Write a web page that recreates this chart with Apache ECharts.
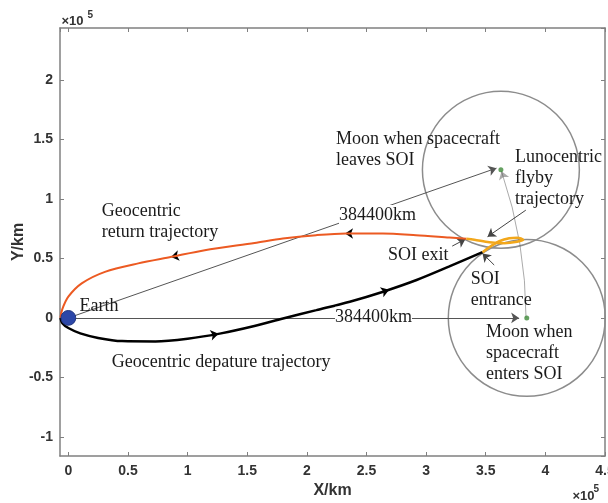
<!DOCTYPE html>
<html><head><meta charset="utf-8">
<script src="https://cdn.jsdelivr.net/npm/echarts@6/dist/echarts.min.js"></script>
<style>html,body{margin:0;padding:0;background:#fff}#c{width:608px;height:503px}</style>
</head><body><div id="c"></div>
<script>
// All coordinates in units of 1e5 km
const departureTrajectory = [[-0.066,0],[-0.05,-0.045],[0.0,-0.085],[0.1,-0.13],[0.25,-0.168],[0.45,-0.195],[0.73,-0.198],[1.0,-0.175],[1.28,-0.13],[1.56,-0.068],[1.80,-0.005],[2.08,0.065],[2.36,0.136],[2.64,0.22],[2.92,0.318],[3.19,0.43],[3.473,0.552]];
const returnTrajectory = [[3.337,0.665],[3.194,0.675],[2.915,0.695],[2.636,0.709],[2.330,0.709],[2.079,0.695],[1.799,0.667],[1.562,0.630],[1.144,0.569],[0.865,0.513],[0.586,0.458],[0.307,0.387],[0.112,0.290],[0.0,0.178],[-0.052,0.07],[-0.066,0.0]];
const flybyTrajectory = [[3.473,0.552],[3.556,0.611],[3.613,0.644],[3.697,0.669],[3.764,0.674],[3.814,0.657],[3.763,0.640],[3.655,0.628],[3.530,0.636],[3.404,0.657],[3.337,0.665]];
const earth = [0, 0, 0.062];                 // x, y, radius
const moonEnter = [3.844, 0];
const moonLeave = [3.627, 1.244];
const soiRadius = 0.658;
const distanceArrows = [[[0.06,0],[3.78,0]], [[0.055,0.019],[3.59,1.258]]];
const orbitArc = [[3.838,0.0],[3.632,1.232]];
const pointerArrows = [[[3.836,0.905],[3.515,0.682]], [[3.219,0.603],[3.329,0.661]], [[3.571,0.444],[3.473,0.541]]];
const departureArrows = [[[1.20,-0.145],[1.26,-0.133]], [[2.63,0.216],[2.69,0.237]]];
const returnArrows = [[[0.92,0.523],[0.86,0.512]], [[2.38,0.709],[2.32,0.709]]];
const xTickRange = [-0.07, 4.5];
const yTickRange = [-1.16, 2.435];

const chart = echarts.init(document.getElementById('c'), null, {renderer:'canvas'});
const axisCol = '#808080';
const lab = {fontFamily:'Liberation Sans, Arial, sans-serif', fontWeight:'bold', fontSize:14, color:'#333'};
const serif = 'Liberation Serif, Times New Roman, serif';
function mkX(pos, show){
  return {type:'value', position:pos, min:xTickRange[0], max:xTickRange[1], splitNumber:9, minInterval:0.5, maxInterval:0.5,
    axisLine:{show:true, onZero:false, lineStyle:{color:axisCol, width:1.5}},
    axisTick:{show:true, inside:true, length:4, lineStyle:{color:axisCol}},
    axisLabel:Object.assign({show:show, margin:8, showMinLabel:false, showMaxLabel:true}, lab),
    splitLine:{show:false},
    name: show ? 'X/km' : '', nameLocation:'middle', nameGap:27, nameMoveOverlap:false,
    nameTextStyle:{fontFamily:'Liberation Sans, Arial, sans-serif', fontWeight:'bold', fontSize:16, color:'#333'}};
}
function mkY(pos, show){
  return {type:'value', position:pos, min:yTickRange[0], max:yTickRange[1], splitNumber:8, minInterval:0.5, maxInterval:0.5,
    axisLine:{show:true, onZero:false, lineStyle:{color:axisCol, width:1.5}},
    axisTick:{show:true, inside:true, length:4, lineStyle:{color:axisCol}},
    axisLabel:Object.assign({show:show, margin:7, showMinLabel:false, showMaxLabel:false}, lab),
    splitLine:{show:false},
    name: show ? 'Y/km' : '', nameLocation:'middle', nameGap:33, nameMoveOverlap:false,
    nameTextStyle:{fontFamily:'Liberation Sans, Arial, sans-serif', fontWeight:'bold', fontSize:16, color:'#333'}};
}
function circleItem(fill, stroke, lw){
  return function(params, api){
    const c = api.coord([api.value(0), api.value(1)]);
    const r = api.size([api.value(2), 0])[0];
    return {type:'circle', shape:{cx:c[0], cy:c[1], r:r}, style:{fill:fill, stroke:stroke, lineWidth:lw}};
  };
}
function arrowLines(data, color, w, size){
  return {type:'lines', coordinateSystem:'cartesian2d', polyline:false, silent:true,
    symbol:['none','arrow'], symbolSize:size,
    lineStyle:{color:color, width:w, opacity:1},
    data:data.map(d => ({coords:d}))};
}
function txt(text, x, y, extra){
  return Object.assign({type:'text', x:x, y:y, silent:true, z:100,
    style:{text:text, fill:'#1a1a1a', font:'18px ' + serif, lineHeight:21, verticalAlign:'top'}}, extra || {});
}
const option = {
  animation:false,
  backgroundColor:'#fff',
  grid:{left:60, right:3, top:28, bottom:47, containLabel:false, outerBoundsMode:'none'},
  xAxis:[mkX('bottom', true), mkX('top', false)],
  yAxis:[mkY('left', true), mkY('right', false)],
  series:[
    {type:'custom', renderItem:circleItem('none', '#8c8c8c', 1.5), clip:false, silent:true,
      data:[[moonEnter[0], moonEnter[1], soiRadius],[moonLeave[0], moonLeave[1], soiRadius]]},
    arrowLines(distanceArrows, '#555', 1, 8),
    Object.assign(arrowLines([orbitArc], '#555', 1, 8), {lineStyle:{color:'#555', width:1, curveness:-0.082}}),
    arrowLines(pointerArrows, '#444', 1, 8),
    {type:'line', data:departureTrajectory, smooth:0.3, showSymbol:false, silent:true,
      lineStyle:{color:'#000', width:2.5}},
    {type:'line', data:returnTrajectory, smooth:0.3, showSymbol:false, silent:true,
      lineStyle:{color:'#ec5a22', width:2}},
    {type:'line', data:flybyTrajectory, smooth:0.3, showSymbol:false, silent:true,
      lineStyle:{color:'#f2a71b', width:2.5}},
    arrowLines(departureArrows, '#000', 0, 8),
    arrowLines(returnArrows, '#000', 0, 8),
    {type:'custom', renderItem:circleItem('#2c47a8', '#22367f', 1), clip:false, silent:true, z:5,
      data:[earth]},
    {type:'scatter', data:[moonEnter, moonLeave], symbolSize:5, itemStyle:{color:'#3f8a3a'}, silent:true, z:6}
  ],
  graphic:[
    txt('Moon when spacecraft\nleaves SOI', 336, 128.5),
    txt('Lunocentric\nflyby\ntrajectory', 515, 146.7),
    txt('384400km', 339, 205, {style:{text:'384400km', fill:'#1a1a1a', font:'18px ' + serif, lineHeight:21, verticalAlign:'top', backgroundColor:'#fff'}}),
    txt('384400km', 335, 306.7, {style:{text:'384400km', fill:'#1a1a1a', font:'18px ' + serif, lineHeight:21, verticalAlign:'top', backgroundColor:'#fff'}}),
    txt('Geocentric\nreturn trajectory', 101.7, 200.4),
    txt('Earth', 79.5, 296),
    txt('SOI exit', 388, 245),
    txt('SOI\nentrance', 470.7, 268.4),
    txt('Moon when\nspacecraft\nenters SOI', 486, 321.7),
    txt('Geocentric depature trajectory', 111.7, 351.4),
    {type:'text', x:61.5, y:21, silent:true, style:{text:'×10', fill:'#333', font:'bold 13px Liberation Sans, Arial, sans-serif', verticalAlign:'middle'}},
    {type:'text', x:87.5, y:15, silent:true, style:{text:'5', fill:'#333', font:'bold 10px Liberation Sans, Arial, sans-serif', verticalAlign:'middle'}},
    {type:'text', x:572.5, y:496, silent:true, style:{text:'×10', fill:'#333', font:'bold 13px Liberation Sans, Arial, sans-serif', verticalAlign:'middle'}},
    {type:'text', x:593.5, y:489, silent:true, style:{text:'5', fill:'#333', font:'bold 10px Liberation Sans, Arial, sans-serif', verticalAlign:'middle'}}
  ]
};
chart.setOption(option);
</script></body></html>
